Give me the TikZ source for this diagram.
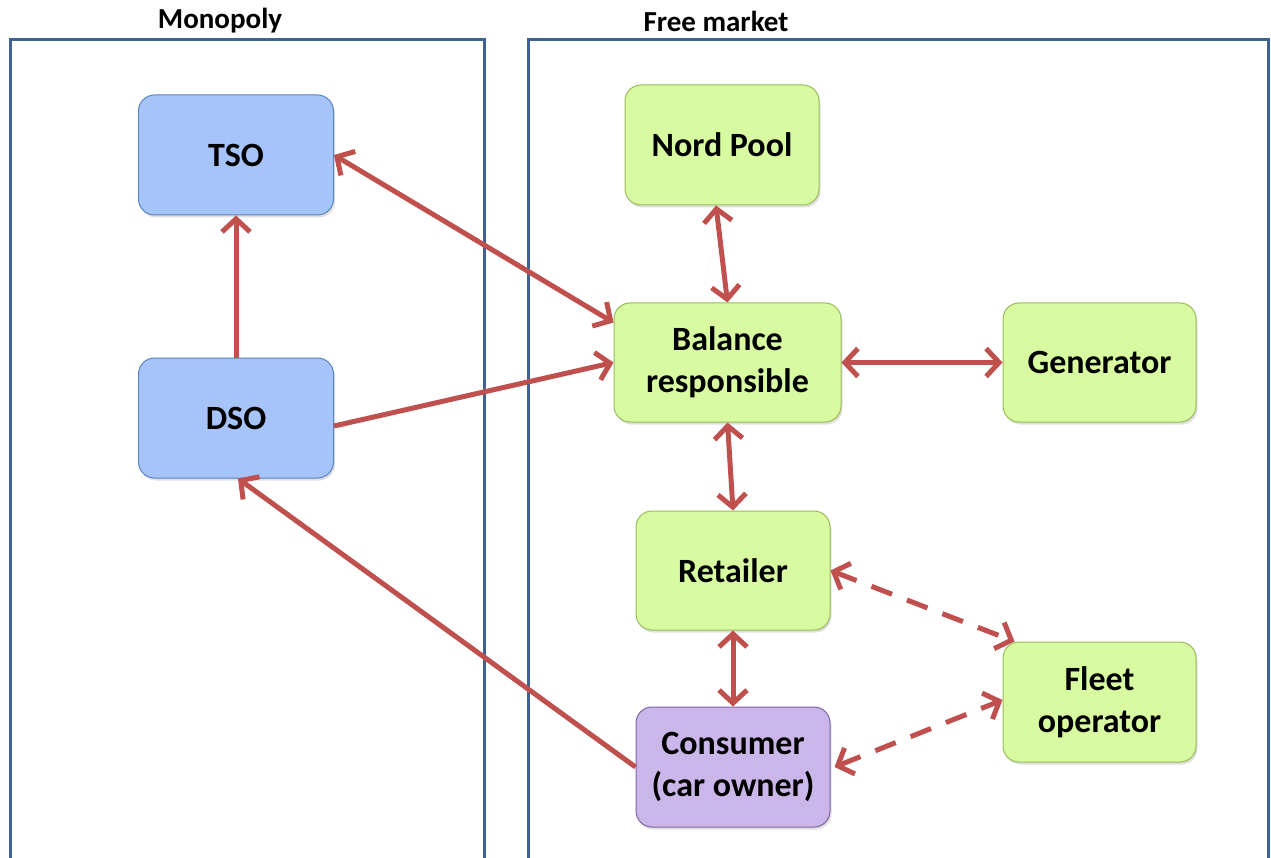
\documentclass[tikz,border=0pt]{standalone}
\usepackage{fontspec}
\setmainfont{Carlito}
\usetikzlibrary{arrows.meta,shadows}
\definecolor{panel}{HTML}{3F6193}
\definecolor{bluefill}{HTML}{A6C4FA}
\definecolor{blueline}{HTML}{5A84C0}
\definecolor{greenfill}{HTML}{D8FBA2}
\definecolor{greenline}{HTML}{9BBB59}
\definecolor{purplefill}{HTML}{CAB6E8}
\definecolor{purpleline}{HTML}{8064A2}
\definecolor{arrowred}{HTML}{C0504D}
\begin{document}
\begin{tikzpicture}[x=1pt,y=-1pt,
  box/.style={rounded corners=16pt,line width=1pt,minimum width=195pt,minimum height=120pt,
    align=center,font=\fontsize{34}{42}\selectfont\bfseries,inner sep=0pt,
    drop shadow={shadow xshift=1.5pt,shadow yshift=-2.5pt,opacity=0.25}},
  bluebox/.style={box,fill=bluefill,draw=blueline},
  greenbox/.style={box,fill=greenfill,draw=greenline},
  purplebox/.style={box,fill=purplefill,draw=purpleline},
  conn/.style={draw=arrowred,line width=5pt,arrows={-Straight Barb[length=13pt,width=28pt,line width=5pt]}},
  bconn/.style={conn,arrows={Straight Barb[length=13pt,width=28pt,line width=5pt]-Straight Barb[length=13pt,width=28pt,line width=5pt]}},
  dconn/.style={bconn,dash pattern=on 22pt off 16pt},
  panelline/.style={draw=panel,line width=3pt},
  title/.style={font=\fontsize{29}{34}\selectfont\bfseries}]
\useasboundingbox (0,0) rectangle (1271,858);
% panels
\draw[panelline] (10,870) -- (10,40) -- (484,40) -- (484,870);
\draw[panelline] (528,870) -- (528,40) -- (1268,40) -- (1268,870);
\node[title] (tmono) at (220,21) {Monopoly};
\node[title] (tfree) at (716,21) {Free market};
% nodes
\node[bluebox] (tso) at (236,155) {TSO};
\node[bluebox] (dso) at (236,418) {DSO};
\node[greenbox,minimum width=194pt] (nord) at (722,145) {Nord Pool};
\node[greenbox,minimum width=227pt,minimum height=119pt] (bal) at (727.5,362.5) {Balance\\responsible};
\node[greenbox,minimum width=193pt,minimum height=119pt] (gen) at (1099.5,362.5) {Generator};
\node[greenbox,minimum width=194pt,minimum height=119pt] (ret) at (733,570.5) {Retailer};
\node[greenbox,minimum width=193pt] (fleet) at (1099.5,702) {Fleet\\operator};
\node[purplebox,minimum width=194pt] (cons) at (733,767) {Consumer\\(car owner)};
% connectors
\draw[bconn] (tso.east) -- ([yshift=40pt]bal.west);
\draw[conn] (dso.north) -- (tso.south);
\draw[conn] ([yshift=-8pt]dso.east) -- (bal.west);
\draw[conn] (cons.west) -- ([xshift=2pt]dso.south);
\draw[bconn] ([xshift=-6pt]nord.south) -- (bal.north);
\draw[bconn] (bal.east) -- (gen.west);
\draw[bconn] (bal.south) -- (ret.north);
\draw[bconn] (ret.south) -- (cons.north);
\draw[dconn] (ret.east) -- ([xshift=12pt]fleet.north west);
\draw[dconn] ([xshift=4pt]cons.east) -- ([yshift=2pt]fleet.west);
\end{tikzpicture}
\end{document}
